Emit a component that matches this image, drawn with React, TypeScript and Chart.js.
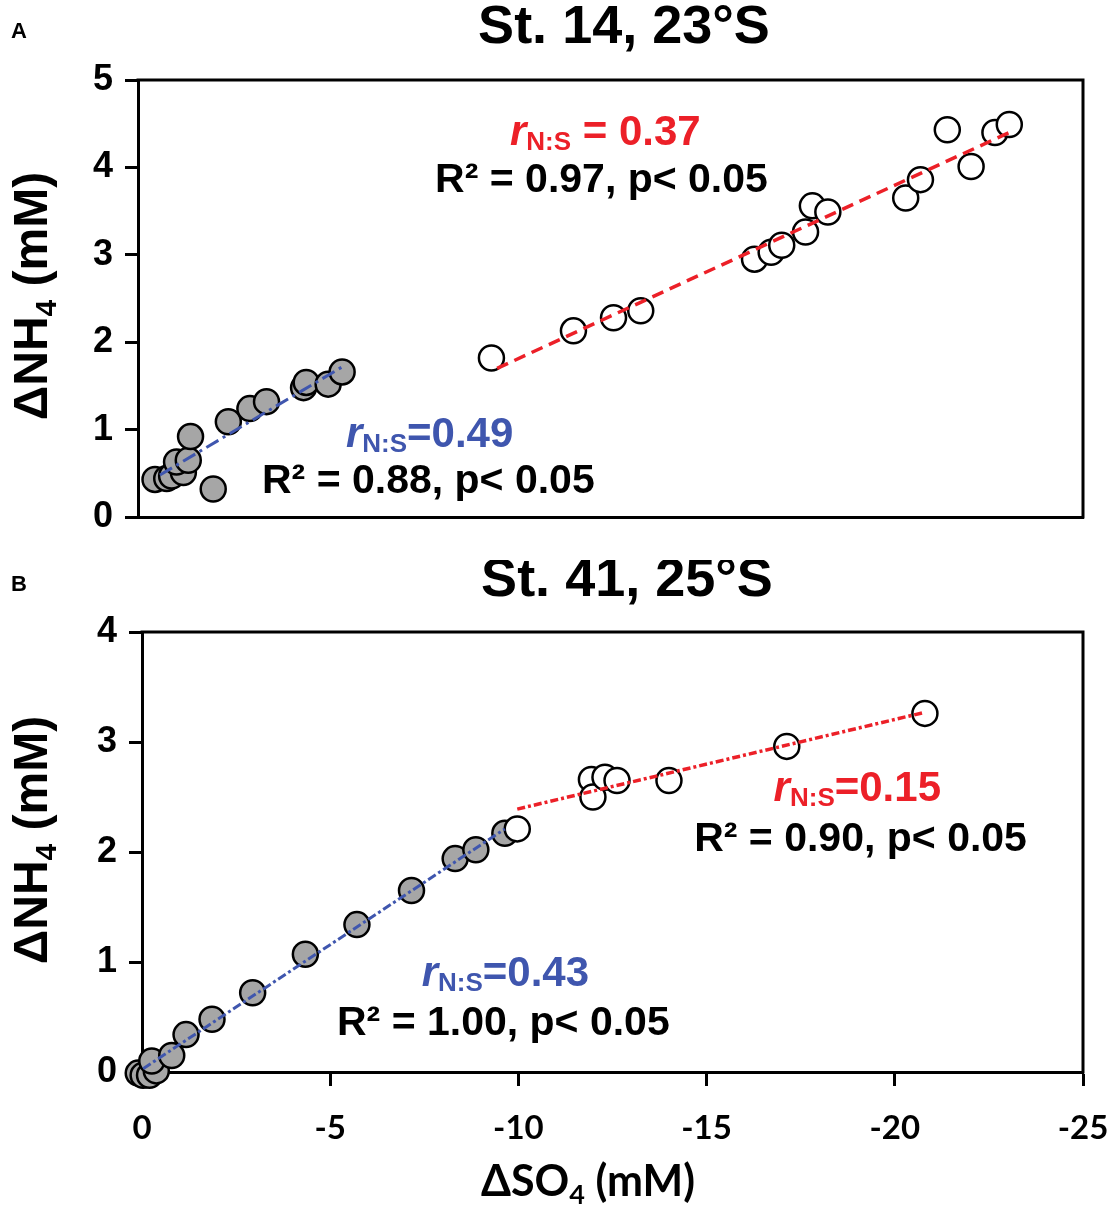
import React, { useEffect, useRef } from 'react';
import { Chart, registerables } from 'chart.js';

Chart.register(...registerables);

// ---- panel A : St. 14, 23°S ----
const aGreyX = [-0.45, -0.76, -0.89, -1.2, -1.02, -1.33, -1.39, -1.99, -2.39, -2.96, -3.4, -4.38, -4.45, -5.03, -5.4];
const aGreyY = [0.43, 0.44, 0.47, 0.51, 0.63, 0.65, 0.92, 0.32, 1.09, 1.24, 1.32, 1.48, 1.54, 1.52, 1.66];
const aOpenX = [-9.35, -11.52, -12.58, -13.3, -16.31, -16.75, -17.03, -17.66, -17.84, -18.25, -20.31, -20.7, -21.41, -22.04, -22.67, -23.05];
const aOpenY = [1.82, 2.13, 2.28, 2.36, 2.95, 3.03, 3.11, 3.26, 3.56, 3.49, 3.65, 3.86, 4.43, 4.01, 4.4, 4.49];
const aBlueFitX = [-0.58, -5.45];
const aBlueFitY = [0.48, 1.73];
const aRedFitX = [-9.5, -23.1];
const aRedFitY = [1.7, 4.41];

// ---- panel B : St. 41, 25°S ----
const bGreyX = [0.1, -0.03, -0.2, -0.38, -0.26, -0.79, -1.17, -1.86, -2.94, -4.34, -5.71, -7.16, -8.32, -8.87, -9.64];
const bGreyY = [-0.01, -0.03, -0.03, 0.01, 0.1, 0.15, 0.34, 0.48, 0.72, 1.07, 1.34, 1.65, 1.94, 2.02, 2.17];
const bOpenX = [-9.97, -11.94, -11.98, -12.3, -12.62, -14.0, -17.13, -20.8];
const bOpenY = [2.21, 2.66, 2.5, 2.68, 2.65, 2.65, 2.96, 3.26];
const bBlueFitX = [-0.03, -9.64];
const bBlueFitY = [0.03, 2.21];
const bRedFitX = [-9.97, -20.8];
const bRedFitY = [2.39, 3.27];

const xTicks = [0, -5, -10, -15, -20, -25];
const yTicksA = [0, 1, 2, 3, 4, 5];
const yTicksB = [0, 1, 2, 3, 4];

const ARIAL = "'Liberation Sans', Arial, sans-serif";
const CALIBRI = "Lato, 'Open Sans', sans-serif";
const RED = '#EC2028';
const BLUE = '#3F56AE';
const GREY = '#A6A6A6';

type Seg = { text: string; size: number; italic?: boolean; dy?: number; family?: string };

const pts = (xs: number[], ys: number[]) => xs.map((x, i) => ({ x, y: ys[i] }));

function drawRich(ctx: CanvasRenderingContext2D, segs: Seg[], x: number, y: number, align: 'left' | 'center') {
  const font = (s: Seg) => `${s.italic ? 'italic ' : ''}bold ${s.size}px ${s.family || ARIAL}`;
  let total = 0;
  segs.forEach((s) => {
    ctx.font = font(s);
    total += ctx.measureText(s.text).width;
  });
  let cx = align === 'center' ? x - total / 2 : x;
  ctx.textAlign = 'left';
  ctx.textBaseline = 'alphabetic';
  segs.forEach((s) => {
    ctx.font = font(s);
    ctx.fillText(s.text, cx, y + (s.dy || 0));
    cx += ctx.measureText(s.text).width;
  });
}

const rSegs = (value: string): Seg[] => [
  { text: 'r', size: 42, italic: true },
  { text: 'N:S', size: 26, dy: 5 },
  { text: value, size: 42 },
];
const r2Segs = (txt: string): Seg[] => [{ text: txt, size: 41 }];

type Note = { x: number; y: number; color: string; segs: Seg[] };

type PanelProps = {
  height: number;
  padTop: number;
  yAxisWidth: number;
  xAxisHeight: number;
  showX: boolean;
  yMax: number;
  yTicks: number[];
  title: string;
  titleX: number;
  titleY: number;
  letter: string;
  letterY: number;
  yTitleY: number;
  grey: { x: number; y: number }[];
  open: { x: number; y: number }[];
  blueFit: { x: number; y: number }[];
  redFit: { x: number; y: number }[];
  blueDash: number[];
  redDash: number[];
  notes: Note[];
};

const Panel: React.FC<PanelProps> = (p) => {
  const chartRef = useRef<HTMLCanvasElement>(null);
  const chartInstance = useRef<Chart | null>(null);

  useEffect(() => {
    if (!chartRef.current) return;
    const ctx = chartRef.current.getContext('2d');
    if (!ctx) return;
    if (chartInstance.current) chartInstance.current.destroy();

    const panelText = {
      id: 'panelText',
      beforeDatasetsDraw(chart: any) {
        const { ctx: c, chartArea: a } = chart;
        c.save();
        c.strokeStyle = '#000';
        c.lineWidth = 3;
        c.beginPath();
        c.moveTo(a.left - 1.5, a.top);
        c.lineTo(a.right, a.top);
        c.lineTo(a.right, a.bottom + 1.5);
        c.stroke();
        c.restore();
      },
      afterDraw(chart: any) {
        const c: CanvasRenderingContext2D = chart.ctx;
        const xs = chart.scales.x;
        const ys = chart.scales.y;
        c.save();
        c.fillStyle = '#000';
        drawRich(c, [{ text: p.title, size: 54 }], p.titleX, p.titleY, 'center');
        drawRich(c, [{ text: p.letter, size: 22 }], 11, p.letterY, 'left');
        // y-axis title
        c.save();
        c.translate(47, p.yTitleY);
        c.rotate(-Math.PI / 2);
        drawRich(c, [
          { text: '\u0394NH', size: 48 },
          { text: '4', size: 30, dy: 9 },
          { text: ' (mM)', size: 48 },
        ], 0, 0, 'center');
        c.restore();
        if (p.showX) {
          drawRich(c, [
            { text: '\u0394SO', size: 43, family: CALIBRI },
            { text: '4', size: 27, dy: 8, family: CALIBRI },
            { text: ' (mM)', size: 43, family: CALIBRI },
          ], 588, p.height - 18, 'center');
        }
        p.notes.forEach((n) => {
          c.fillStyle = n.color;
          drawRich(c, n.segs, xs.getPixelForValue(n.x), ys.getPixelForValue(n.y), 'left');
        });
        c.restore();
      },
    };

    chartInstance.current = new Chart(ctx, {
      type: 'scatter',
      data: {
        datasets: [
          {
            data: p.blueFit,
            showLine: true,
            borderColor: BLUE,
            borderWidth: 3,
            borderDash: p.blueDash,
            pointRadius: 0,
            clip: false,
          },
          {
            data: p.redFit,
            showLine: true,
            borderColor: RED,
            borderWidth: 3.5,
            borderDash: p.redDash,
            pointRadius: 0,
            clip: false,
          },
          {
            data: p.open,
            pointRadius: 12.5,
            pointBackgroundColor: '#fff',
            pointBorderColor: '#000',
            pointBorderWidth: 2.5,
            clip: false,
          },
          {
            data: p.grey,
            pointRadius: 12.5,
            pointBackgroundColor: GREY,
            pointBorderColor: '#000',
            pointBorderWidth: 2.5,
            clip: false,
          },
        ],
      },
      options: {
        animation: false,
        responsive: true,
        maintainAspectRatio: false,
        events: [],
        layout: { padding: { top: p.padTop, right: 29, left: 0, bottom: 0 } },
        plugins: {
          legend: { display: false },
          tooltip: { enabled: false },
        },
        scales: {
          x: {
            type: 'linear',
            min: -25,
            max: 0,
            reverse: true,
            afterBuildTicks: (s: any) => {
              s.ticks = xTicks.map((value) => ({ value }));
            },
            afterFit: (s: any) => {
              s.height = p.xAxisHeight;
            },
            ticks: {
              display: p.showX,
              color: '#000',
              padding: 1,
              font: { family: CALIBRI, size: 33, weight: 'bold', lineHeight: '82px' },
            },
            grid: {
              drawOnChartArea: false,
              drawTicks: p.showX,
              tickLength: 14,
              tickWidth: 3,
              tickColor: '#000',
            },
            border: { display: true, color: '#000', width: 3 },
          },
          y: {
            type: 'linear',
            min: 0,
            max: p.yMax,
            afterBuildTicks: (s: any) => {
              s.ticks = p.yTicks.map((value) => ({ value }));
            },
            afterFit: (s: any) => {
              s.width = p.yAxisWidth;
            },
            ticks: {
              color: '#000',
              padding: 12,
              font: { family: ARIAL, size: 36, weight: 'bold' },
            },
            grid: {
              drawOnChartArea: false,
              tickLength: 13,
              tickWidth: 3,
              tickColor: '#000',
            },
            border: { display: true, color: '#000', width: 3 },
          },
        },
      },
      plugins: [panelText],
    });

    return () => {
      if (chartInstance.current) {
        chartInstance.current.destroy();
        chartInstance.current = null;
      }
    };
  }, []);

  return (
    <div style={{ position: 'relative', width: 1112, height: p.height }}>
      <canvas ref={chartRef} />
    </div>
  );
};

export default function App() {
  useEffect(() => {
    document.body.style.margin = '0';
    document.body.style.background = '#fff';
  }, []);

  return (
    <div style={{ width: 1112, background: '#fff' }}>
      <Panel
        height={560}
        padTop={80}
        yAxisWidth={138}
        xAxisHeight={43}
        showX={false}
        yMax={5}
        yTicks={yTicksA}
        title="St. 14, 23°S"
        titleX={624}
        titleY={43}
        letter="A"
        letterY={38}
        yTitleY={296}
        grey={pts(aGreyX, aGreyY)}
        open={pts(aOpenX, aOpenY)}
        blueFit={pts(aBlueFitX, aBlueFitY)}
        redFit={pts(aRedFitX, aRedFitY)}
        blueDash={[14, 5, 3, 5]}
        redDash={[12, 7]}
        notes={[
          { x: -9.84, y: 4.26, color: RED, segs: rSegs(' = 0.37') },
          { x: -7.86, y: 3.72, color: '#000', segs: r2Segs('R\u00B2 = 0.97, p< 0.05') },
          { x: -5.5, y: 0.8, color: BLUE, segs: rSegs('=0.49') },
          { x: -3.28, y: 0.27, color: '#000', segs: r2Segs('R\u00B2 = 0.88, p< 0.05') },
        ]}
      />
      <Panel
        height={654}
        padTop={72}
        yAxisWidth={142}
        xAxisHeight={142}
        showX={true}
        yMax={4}
        yTicks={yTicksB}
        title="St. 41, 25°S"
        titleX={627}
        titleY={36}
        letter="B"
        letterY={31}
        yTitleY={280}
        grey={pts(bGreyX, bGreyY)}
        open={pts(bOpenX, bOpenY)}
        blueFit={pts(bBlueFitX, bBlueFitY)}
        redFit={pts(bRedFitX, bRedFitY)}
        blueDash={[9, 3, 3, 3]}
        redDash={[8, 3, 3, 3]}
        notes={[
          { x: -16.78, y: 2.46, color: RED, segs: rSegs('=0.15') },
          { x: -14.67, y: 2.01, color: '#000', segs: r2Segs('R\u00B2 = 0.90, p< 0.05') },
          { x: -7.43, y: 0.78, color: BLUE, segs: rSegs('=0.43') },
          { x: -5.18, y: 0.34, color: '#000', segs: r2Segs('R\u00B2 = 1.00, p< 0.05') },
        ]}
      />
    </div>
  );
}
